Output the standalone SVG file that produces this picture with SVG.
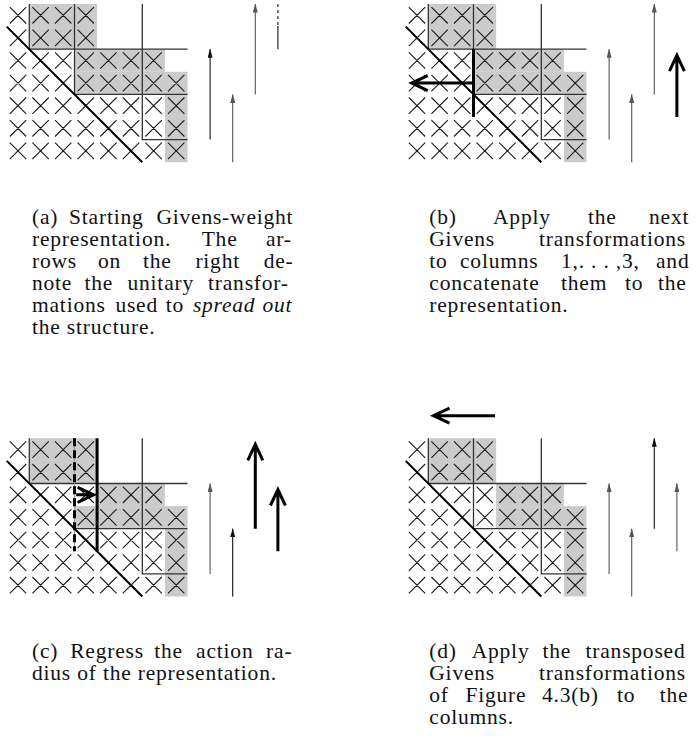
<svg xmlns="http://www.w3.org/2000/svg" width="696" height="740" viewBox="0 0 696 740">
<style>
.g{fill:#cbcbcb}
.ln{fill:none;stroke:#333;stroke-width:1.3}
.lt{fill:none;stroke:#999;stroke-width:1}
.dg{fill:none;stroke:#000;stroke-width:2}
.thk{fill:none;stroke:#000;stroke-width:3;stroke-linejoin:miter}
.dsh{stroke-dasharray:8 4}
.ab{fill:none;stroke:#111;stroke-width:1.1;marker-end:url(#mb)}
.ag{fill:none;stroke:#555;stroke-width:1.1;marker-end:url(#mg)}
.cap{font-family:"Liberation Serif","Times New Roman",serif;font-size:21.5px;letter-spacing:0.8px;fill:#111}
.it{font-style:italic}
</style>
<defs>
<marker id="mb" markerWidth="9" markerHeight="5" refX="8.5" refY="2.5" orient="auto" markerUnits="userSpaceOnUse"><path d="M0 0L9 2.5L0 5z" fill="#111"/></marker>
<marker id="mg" markerWidth="9" markerHeight="5" refX="8.5" refY="2.5" orient="auto" markerUnits="userSpaceOnUse"><path d="M0 0L9 2.5L0 5z" fill="#555"/></marker>
<path id="xgrid" fill="none" stroke="#1a1a1a" stroke-width="1.1" d="M3.1 3.1l16.4 16.4m0-16.4l-16.4 16.4m22.6-16.4l16.4 16.4m0-16.4l-16.4 16.4m22.6-16.4l16.4 16.4m0-16.4l-16.4 16.4m22.6-16.4l16.4 16.4m0-16.4l-16.4 16.4
M3.1 25.7l16.4 16.4m0-16.4l-16.4 16.4m22.6-16.4l16.4 16.4m0-16.4l-16.4 16.4m22.6-16.4l16.4 16.4m0-16.4l-16.4 16.4m22.6-16.4l16.4 16.4m0-16.4l-16.4 16.4
M3.1 48.3l16.4 16.4m0-16.4l-16.4 16.4m22.6-16.4l16.4 16.4m0-16.4l-16.4 16.4m22.6-16.4l16.4 16.4m0-16.4l-16.4 16.4m22.6-16.4l16.4 16.4m0-16.4l-16.4 16.4m22.6-16.4l16.4 16.4m0-16.4l-16.4 16.4m22.6-16.4l16.4 16.4m0-16.4l-16.4 16.4m22.6-16.4l16.4 16.4m0-16.4l-16.4 16.4
M3.1 70.9l16.4 16.4m0-16.4l-16.4 16.4m22.6-16.4l16.4 16.4m0-16.4l-16.4 16.4m22.6-16.4l16.4 16.4m0-16.4l-16.4 16.4m22.6-16.4l16.4 16.4m0-16.4l-16.4 16.4m22.6-16.4l16.4 16.4m0-16.4l-16.4 16.4m22.6-16.4l16.4 16.4m0-16.4l-16.4 16.4m22.6-16.4l16.4 16.4m0-16.4l-16.4 16.4m22.6-16.4l16.4 16.4m0-16.4l-16.4 16.4
M3.1 93.5l16.4 16.4m0-16.4l-16.4 16.4m22.6-16.4l16.4 16.4m0-16.4l-16.4 16.4m22.6-16.4l16.4 16.4m0-16.4l-16.4 16.4m22.6-16.4l16.4 16.4m0-16.4l-16.4 16.4m22.6-16.4l16.4 16.4m0-16.4l-16.4 16.4m22.6-16.4l16.4 16.4m0-16.4l-16.4 16.4m22.6-16.4l16.4 16.4m0-16.4l-16.4 16.4m22.6-16.4l16.4 16.4m0-16.4l-16.4 16.4
M3.1 116.1l16.4 16.4m0-16.4l-16.4 16.4m22.6-16.4l16.4 16.4m0-16.4l-16.4 16.4m22.6-16.4l16.4 16.4m0-16.4l-16.4 16.4m22.6-16.4l16.4 16.4m0-16.4l-16.4 16.4m22.6-16.4l16.4 16.4m0-16.4l-16.4 16.4m22.6-16.4l16.4 16.4m0-16.4l-16.4 16.4m22.6-16.4l16.4 16.4m0-16.4l-16.4 16.4m22.6-16.4l16.4 16.4m0-16.4l-16.4 16.4
M3.1 138.7l16.4 16.4m0-16.4l-16.4 16.4m22.6-16.4l16.4 16.4m0-16.4l-16.4 16.4m22.6-16.4l16.4 16.4m0-16.4l-16.4 16.4m22.6-16.4l16.4 16.4m0-16.4l-16.4 16.4m22.6-16.4l16.4 16.4m0-16.4l-16.4 16.4m22.6-16.4l16.4 16.4m0-16.4l-16.4 16.4m22.6-16.4l16.4 16.4m0-16.4l-16.4 16.4m22.6-16.4l16.4 16.4m0-16.4l-16.4 16.4"/>
<path id="frame" fill="none" stroke="#333" stroke-width="1.3" d="M22.6 0V45.2H180.8M67.8 90.4H180.8M135.6 0V135.6H180.8"/>
<path id="diag" fill="none" stroke="#000" stroke-width="2" d="M0 22.6L135.6 158.2"/>
</defs>

<g id="panel-a" transform="translate(6.7 4)">
<g id="a-fill">
<rect class="g" x="22.6" y="0" width="67.8" height="45.2"/>
<rect class="g" x="67.8" y="45.2" width="90.4" height="22.6"/>
<rect class="g" x="67.8" y="67.8" width="113" height="22.6"/>
<rect class="g" x="158.2" y="90.4" width="22.6" height="67.8"/>
</g>
<use href="#xgrid"/>
<use href="#frame"/>
<path class="ln" d="M67.8 0V90.4"/>
<use href="#diag"/>
<g id="a-arrows">
<path class="ab" d="M203.4 135.6V45.2"/>
<path class="ag" d="M226 158.2V90.4"/>
<path class="ag" d="M248.6 90.4V0"/>
<path fill="none" stroke="#111" stroke-width="1.1" stroke-dasharray="3 3" d="M271.2 0V22"/>
<path fill="none" stroke="#111" stroke-width="1.1" d="M271.2 22V45.2"/>
</g>
</g>

<g id="panel-b" transform="translate(405.7 4)">
<g id="b-fill">
<rect class="g" x="22.6" y="0" width="67.8" height="45.2"/>
<rect class="g" x="67.8" y="45.2" width="90.4" height="22.6"/>
<rect class="g" x="67.8" y="67.8" width="113" height="22.6"/>
<rect class="g" x="158.2" y="90.4" width="22.6" height="67.8"/>
</g>
<use href="#xgrid"/>
<use href="#frame"/>
<path class="ln" d="M67.8 0V45.2"/>
<use href="#diag"/>
<path class="thk" d="M67.8 45.2V113"/>
<g id="b-arrows">
<path class="thk" d="M67.8 79.1H6M22 71.6L6 79.1L22 86.6"/>
<path class="ag" d="M203.4 135.6V45.2"/>
<path class="ag" d="M226 158.2V90.4"/>
<path class="ag" d="M248.6 90.4V0"/>
<path class="thk" d="M271.2 113V51.2M263.7 67.2L271.2 51.2L278.7 67.2"/>
</g>
</g>

<g id="panel-c" transform="translate(6.7 438.3)">
<g id="c-fill">
<rect class="g" x="22.6" y="0" width="67.8" height="45.2"/>
<rect class="g" x="90.4" y="45.2" width="67.8" height="22.6"/>
<rect class="g" x="67.8" y="67.8" width="113" height="22.6"/>
<rect class="g" x="158.2" y="90.4" width="22.6" height="67.8"/>
</g>
<use href="#xgrid"/>
<use href="#frame"/>
<path class="lt" d="M67.8 0V113"/>
<use href="#diag"/>
<path class="thk dsh" d="M67.8 0V113"/>
<path class="thk" d="M90.4 0V113"/>
<g id="c-arrows">
<path class="thk" d="M69.5 56.5H87M71 49L87 56.5L71 64"/>
<path class="ag" d="M203.4 135.6V45.2"/>
<path class="ab" d="M226 158.2V90.4"/>
<path class="thk" d="M248.6 90.4V6M241.1 22L248.6 6L256.1 22"/>
<path class="thk" d="M271.2 113V51.2M263.7 67.2L271.2 51.2L278.7 67.2"/>
</g>
</g>

<g id="panel-d" transform="translate(405.7 438.3)">
<g id="d-fill">
<rect class="g" x="22.6" y="0" width="67.8" height="45.2"/>
<rect class="g" x="90.4" y="45.2" width="67.8" height="22.6"/>
<rect class="g" x="90.4" y="67.8" width="90.4" height="22.6"/>
<rect class="g" x="158.2" y="90.4" width="22.6" height="67.8"/>
</g>
<use href="#xgrid"/>
<use href="#frame"/>
<path class="ln" d="M67.8 0V90.4"/>
<use href="#diag"/>
<g id="d-arrows">
<path class="thk" d="M89.3 -22.6H27.8M43.8 -30.1L27.8 -22.6L43.8 -15.1"/>
<path class="ag" d="M203.4 135.6V45.2"/>
<path class="ag" d="M226 158.2V90.4"/>
<path class="ab" d="M248.6 90.4V0"/>
<path class="ag" d="M271.2 113V45.2"/>
</g>
</g>

<g id="caption-a" class="cap">
<text y="224"><tspan x="32">(a)</tspan><tspan x="69.1">Starting</tspan><tspan x="156.4">Givens-weight</tspan></text>
<text y="246"><tspan x="32">representation.</tspan><tspan x="201.7">The</tspan><tspan x="266">ar-</tspan></text>
<text y="268"><tspan x="32">rows</tspan><tspan x="98">on</tspan><tspan x="143">the</tspan><tspan x="195.4">right</tspan><tspan x="263.7">de-</tspan></text>
<text y="290"><tspan x="32">note</tspan><tspan x="84.5">the</tspan><tspan x="127.5">unitary</tspan><tspan x="208">transfor-</tspan></text>
<text y="312"><tspan x="32">mations</tspan><tspan x="115.4">used</tspan><tspan x="165.8">to</tspan><tspan x="192.9" class="it">spread</tspan><tspan x="262.5" class="it">out</tspan></text>
<text y="334" x="32">the structure.</text>
</g>

<g id="caption-b" class="cap">
<text y="224"><tspan x="429.3">(b)</tspan><tspan x="493">Apply</tspan><tspan x="588">the</tspan><tspan x="649">next</tspan></text>
<text y="246"><tspan x="429.3">Givens</tspan><tspan x="539">transformations</tspan></text>
<text y="268"><tspan x="429.3">to</tspan><tspan x="460">columns</tspan><tspan x="561">1,. . . ,3,</tspan><tspan x="656">and</tspan></text>
<text y="290"><tspan x="429.3">concatenate</tspan><tspan x="561">them</tspan><tspan x="625">to</tspan><tspan x="658">the</tspan></text>
<text y="312" x="429.3">representation.</text>
</g>

<g id="caption-c" class="cap">
<text y="658"><tspan x="32">(c)</tspan><tspan x="70.2">Regress</tspan><tspan x="154.2">the</tspan><tspan x="196.1">action</tspan><tspan x="266.1">ra-</tspan></text>
<text y="680" x="32">dius of the representation.</text>
</g>

<g id="caption-d" class="cap">
<text y="658"><tspan x="429.3">(d)</tspan><tspan x="471.7">Apply</tspan><tspan x="542.5">the</tspan><tspan x="585.5">transposed</tspan></text>
<text y="680"><tspan x="429.3">Givens</tspan><tspan x="539">transformations</tspan></text>
<text y="702"><tspan x="429.3">of</tspan><tspan x="465.4">Figure</tspan><tspan x="542">4.3(b)</tspan><tspan x="617">to</tspan><tspan x="659.8">the</tspan></text>
<text y="724" x="429.3">columns.</text>
</g>
</svg>
